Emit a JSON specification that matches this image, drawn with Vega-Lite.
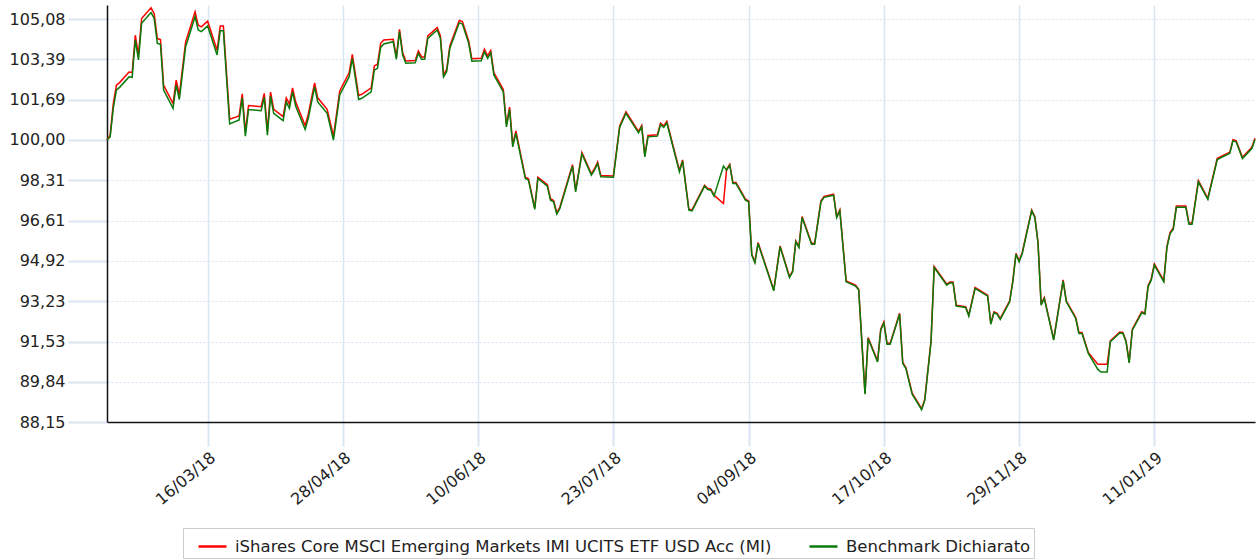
{
  "$schema": "https://vega.github.io/schema/vega-lite/v6.json",
  "width": 1148,
  "height": 417,
  "autosize": {"type": "none"},
  "padding": {"left": 107, "top": 5, "right": 2, "bottom": 138},
  "background": "white",
  "config": {"view": {"stroke": null}, "font": "DejaVu Sans"},
  "data": {"values": [
    {"d":"2018-02-12","e":100.00,"b":100.00},
    {"d":"2018-02-13","e":100.20,"b":100.13},
    {"d":"2018-02-14","e":101.53,"b":101.33},
    {"d":"2018-02-15","e":102.30,"b":102.10},
    {"d":"2018-02-16","e":102.41,"b":102.21},
    {"d":"2018-02-19","e":102.85,"b":102.65},
    {"d":"2018-02-20","e":102.83,"b":102.63},
    {"d":"2018-02-21","e":104.40,"b":104.20},
    {"d":"2018-02-22","e":103.56,"b":103.36},
    {"d":"2018-02-23","e":105.10,"b":104.90},
    {"d":"2018-02-26","e":105.55,"b":105.35},
    {"d":"2018-02-27","e":105.31,"b":105.11},
    {"d":"2018-02-28","e":104.26,"b":104.06},
    {"d":"2018-03-01","e":104.22,"b":104.02},
    {"d":"2018-03-02","e":102.30,"b":102.10},
    {"d":"2018-03-05","e":101.53,"b":101.33},
    {"d":"2018-03-06","e":102.51,"b":102.31},
    {"d":"2018-03-07","e":101.90,"b":101.70},
    {"d":"2018-03-09","e":104.12,"b":103.92},
    {"d":"2018-03-12","e":105.38,"b":105.18},
    {"d":"2018-03-13","e":104.82,"b":104.62},
    {"d":"2018-03-14","e":104.75,"b":104.55},
    {"d":"2018-03-16","e":104.99,"b":104.79},
    {"d":"2018-03-19","e":103.77,"b":103.57},
    {"d":"2018-03-20","e":104.79,"b":104.59},
    {"d":"2018-03-21","e":104.79,"b":104.59},
    {"d":"2018-03-23","e":100.87,"b":100.67},
    {"d":"2018-03-26","e":101.01,"b":100.84},
    {"d":"2018-03-27","e":101.94,"b":101.77},
    {"d":"2018-03-28","e":100.33,"b":100.16},
    {"d":"2018-03-29","e":101.45,"b":101.28},
    {"d":"2018-04-02","e":101.40,"b":101.23},
    {"d":"2018-04-03","e":101.96,"b":101.79},
    {"d":"2018-04-04","e":100.37,"b":100.20},
    {"d":"2018-04-05","e":102.01,"b":101.84},
    {"d":"2018-04-06","e":101.29,"b":101.12},
    {"d":"2018-04-09","e":100.98,"b":100.81},
    {"d":"2018-04-10","e":101.77,"b":101.60},
    {"d":"2018-04-11","e":101.50,"b":101.33},
    {"d":"2018-04-12","e":102.19,"b":102.02},
    {"d":"2018-04-13","e":101.59,"b":101.42},
    {"d":"2018-04-16","e":100.61,"b":100.44},
    {"d":"2018-04-17","e":101.08,"b":100.91},
    {"d":"2018-04-19","e":102.40,"b":102.23},
    {"d":"2018-04-20","e":101.77,"b":101.60},
    {"d":"2018-04-23","e":101.29,"b":101.12},
    {"d":"2018-04-25","e":100.16,"b":99.99},
    {"d":"2018-04-27","e":102.06,"b":101.89},
    {"d":"2018-04-30","e":102.83,"b":102.66},
    {"d":"2018-05-01","e":103.60,"b":103.43},
    {"d":"2018-05-03","e":101.87,"b":101.70},
    {"d":"2018-05-04","e":101.92,"b":101.75},
    {"d":"2018-05-07","e":102.19,"b":102.02},
    {"d":"2018-05-08","e":103.11,"b":102.94},
    {"d":"2018-05-09","e":103.18,"b":103.01},
    {"d":"2018-05-10","e":104.06,"b":103.89},
    {"d":"2018-05-11","e":104.20,"b":104.03},
    {"d":"2018-05-14","e":104.23,"b":104.13},
    {"d":"2018-05-15","e":103.49,"b":103.39},
    {"d":"2018-05-16","e":104.65,"b":104.55},
    {"d":"2018-05-17","e":103.67,"b":103.57},
    {"d":"2018-05-18","e":103.32,"b":103.22},
    {"d":"2018-05-21","e":103.34,"b":103.24},
    {"d":"2018-05-22","e":103.74,"b":103.64},
    {"d":"2018-05-23","e":103.49,"b":103.39},
    {"d":"2018-05-24","e":103.49,"b":103.39},
    {"d":"2018-05-25","e":104.37,"b":104.27},
    {"d":"2018-05-28","e":104.72,"b":104.62},
    {"d":"2018-05-29","e":104.37,"b":104.27},
    {"d":"2018-05-30","e":102.75,"b":102.65},
    {"d":"2018-05-31","e":102.97,"b":102.87},
    {"d":"2018-06-01","e":103.95,"b":103.85},
    {"d":"2018-06-04","e":105.02,"b":104.92},
    {"d":"2018-06-05","e":104.97,"b":104.87},
    {"d":"2018-06-07","e":104.16,"b":104.06},
    {"d":"2018-06-08","e":103.41,"b":103.31},
    {"d":"2018-06-11","e":103.43,"b":103.33},
    {"d":"2018-06-12","e":103.81,"b":103.71},
    {"d":"2018-06-13","e":103.53,"b":103.43},
    {"d":"2018-06-14","e":103.76,"b":103.66},
    {"d":"2018-06-15","e":102.83,"b":102.73},
    {"d":"2018-06-18","e":102.12,"b":102.02},
    {"d":"2018-06-19","e":100.65,"b":100.55},
    {"d":"2018-06-20","e":101.38,"b":101.28},
    {"d":"2018-06-21","e":99.81,"b":99.71},
    {"d":"2018-06-22","e":100.38,"b":100.28},
    {"d":"2018-06-25","e":98.44,"b":98.38},
    {"d":"2018-06-26","e":98.37,"b":98.31},
    {"d":"2018-06-28","e":97.14,"b":97.08},
    {"d":"2018-06-29","e":98.44,"b":98.38},
    {"d":"2018-07-02","e":98.12,"b":98.06},
    {"d":"2018-07-03","e":97.53,"b":97.47},
    {"d":"2018-07-04","e":97.46,"b":97.40},
    {"d":"2018-07-05","e":96.94,"b":96.88},
    {"d":"2018-07-06","e":97.18,"b":97.12},
    {"d":"2018-07-10","e":98.96,"b":98.90},
    {"d":"2018-07-11","e":97.88,"b":97.82},
    {"d":"2018-07-13","e":99.47,"b":99.41},
    {"d":"2018-07-16","e":98.58,"b":98.52},
    {"d":"2018-07-17","e":98.79,"b":98.73},
    {"d":"2018-07-18","e":99.07,"b":99.01},
    {"d":"2018-07-19","e":98.51,"b":98.45},
    {"d":"2018-07-23","e":98.49,"b":98.43},
    {"d":"2018-07-25","e":100.59,"b":100.53},
    {"d":"2018-07-27","e":101.18,"b":101.12},
    {"d":"2018-07-31","e":100.36,"b":100.30},
    {"d":"2018-08-01","e":100.61,"b":100.55},
    {"d":"2018-08-02","e":99.35,"b":99.29},
    {"d":"2018-08-03","e":100.19,"b":100.13},
    {"d":"2018-08-06","e":100.22,"b":100.16},
    {"d":"2018-08-07","e":100.71,"b":100.65},
    {"d":"2018-08-08","e":100.59,"b":100.53},
    {"d":"2018-08-09","e":100.78,"b":100.72},
    {"d":"2018-08-10","e":100.26,"b":100.20},
    {"d":"2018-08-13","e":98.72,"b":98.66},
    {"d":"2018-08-14","e":99.16,"b":99.12},
    {"d":"2018-08-16","e":97.09,"b":97.05},
    {"d":"2018-08-17","e":97.06,"b":97.02},
    {"d":"2018-08-21","e":98.10,"b":98.06},
    {"d":"2018-08-22","e":97.96,"b":97.92},
    {"d":"2018-08-23","e":97.93,"b":97.89},
    {"d":"2018-08-24","e":97.68,"b":97.64},
    {"d":"2018-08-27","e":97.33,"b":98.90},
    {"d":"2018-08-28","e":98.77,"b":98.73},
    {"d":"2018-08-29","e":98.98,"b":98.94},
    {"d":"2018-08-30","e":98.21,"b":98.17},
    {"d":"2018-08-31","e":98.21,"b":98.17},
    {"d":"2018-09-03","e":97.51,"b":97.47},
    {"d":"2018-09-04","e":97.44,"b":97.40},
    {"d":"2018-09-05","e":95.20,"b":95.16},
    {"d":"2018-09-06","e":94.88,"b":94.84},
    {"d":"2018-09-07","e":95.69,"b":95.65},
    {"d":"2018-09-12","e":93.70,"b":93.66},
    {"d":"2018-09-14","e":95.55,"b":95.51},
    {"d":"2018-09-17","e":94.26,"b":94.22},
    {"d":"2018-09-18","e":94.50,"b":94.46},
    {"d":"2018-09-19","e":95.76,"b":95.72},
    {"d":"2018-09-20","e":95.52,"b":95.48},
    {"d":"2018-09-21","e":96.78,"b":96.74},
    {"d":"2018-09-24","e":95.66,"b":95.62},
    {"d":"2018-09-25","e":95.66,"b":95.62},
    {"d":"2018-09-27","e":97.44,"b":97.40},
    {"d":"2018-09-28","e":97.63,"b":97.59},
    {"d":"2018-10-01","e":97.72,"b":97.68},
    {"d":"2018-10-02","e":96.78,"b":96.74},
    {"d":"2018-10-03","e":97.06,"b":97.02},
    {"d":"2018-10-05","e":94.08,"b":94.04},
    {"d":"2018-10-08","e":93.90,"b":93.86},
    {"d":"2018-10-09","e":93.73,"b":93.69},
    {"d":"2018-10-11","e":89.36,"b":89.32},
    {"d":"2018-10-12","e":91.70,"b":91.66},
    {"d":"2018-10-15","e":90.71,"b":90.67},
    {"d":"2018-10-16","e":92.05,"b":92.01},
    {"d":"2018-10-17","e":92.35,"b":92.31},
    {"d":"2018-10-18","e":91.46,"b":91.42},
    {"d":"2018-10-19","e":91.46,"b":91.42},
    {"d":"2018-10-22","e":92.72,"b":92.68},
    {"d":"2018-10-23","e":90.65,"b":90.61},
    {"d":"2018-10-24","e":90.44,"b":90.40},
    {"d":"2018-10-26","e":89.36,"b":89.32},
    {"d":"2018-10-29","e":88.71,"b":88.67},
    {"d":"2018-10-30","e":89.10,"b":89.06},
    {"d":"2018-11-01","e":91.56,"b":91.52},
    {"d":"2018-11-02","e":94.68,"b":94.64},
    {"d":"2018-11-06","e":93.94,"b":93.90},
    {"d":"2018-11-07","e":94.03,"b":93.99},
    {"d":"2018-11-08","e":94.03,"b":93.99},
    {"d":"2018-11-09","e":93.06,"b":93.02},
    {"d":"2018-11-12","e":93.00,"b":92.96},
    {"d":"2018-11-13","e":92.64,"b":92.60},
    {"d":"2018-11-15","e":93.80,"b":93.76},
    {"d":"2018-11-19","e":93.48,"b":93.44},
    {"d":"2018-11-20","e":92.30,"b":92.26},
    {"d":"2018-11-21","e":92.78,"b":92.74},
    {"d":"2018-11-22","e":92.72,"b":92.68},
    {"d":"2018-11-23","e":92.50,"b":92.46},
    {"d":"2018-11-26","e":93.24,"b":93.20},
    {"d":"2018-11-27","e":94.08,"b":94.04},
    {"d":"2018-11-28","e":95.24,"b":95.20},
    {"d":"2018-11-29","e":94.92,"b":94.88},
    {"d":"2018-11-30","e":95.27,"b":95.23},
    {"d":"2018-12-03","e":97.06,"b":97.02},
    {"d":"2018-12-04","e":96.78,"b":96.74},
    {"d":"2018-12-05","e":95.72,"b":95.68},
    {"d":"2018-12-06","e":93.10,"b":93.06},
    {"d":"2018-12-07","e":93.38,"b":93.34},
    {"d":"2018-12-10","e":91.63,"b":91.59},
    {"d":"2018-12-13","e":94.12,"b":94.08},
    {"d":"2018-12-14","e":93.24,"b":93.20},
    {"d":"2018-12-17","e":92.54,"b":92.50},
    {"d":"2018-12-18","e":91.91,"b":91.87},
    {"d":"2018-12-19","e":91.91,"b":91.87},
    {"d":"2018-12-21","e":91.07,"b":91.03},
    {"d":"2018-12-24","e":90.58,"b":90.37},
    {"d":"2018-12-25","e":90.58,"b":90.25},
    {"d":"2018-12-27","e":90.58,"b":90.25},
    {"d":"2018-12-28","e":91.56,"b":91.52},
    {"d":"2018-12-31","e":91.93,"b":91.89},
    {"d":"2019-01-01","e":91.91,"b":91.87},
    {"d":"2019-01-02","e":91.56,"b":91.52},
    {"d":"2019-01-03","e":90.67,"b":90.63},
    {"d":"2019-01-04","e":92.05,"b":92.01},
    {"d":"2019-01-07","e":92.78,"b":92.74},
    {"d":"2019-01-08","e":92.72,"b":92.68},
    {"d":"2019-01-09","e":93.88,"b":93.83},
    {"d":"2019-01-10","e":94.16,"b":94.11},
    {"d":"2019-01-11","e":94.79,"b":94.74},
    {"d":"2019-01-14","e":94.09,"b":94.04},
    {"d":"2019-01-15","e":95.53,"b":95.48},
    {"d":"2019-01-16","e":96.12,"b":96.07},
    {"d":"2019-01-17","e":96.29,"b":96.24},
    {"d":"2019-01-18","e":97.22,"b":97.17},
    {"d":"2019-01-21","e":97.22,"b":97.17},
    {"d":"2019-01-22","e":96.51,"b":96.46},
    {"d":"2019-01-23","e":96.51,"b":96.46},
    {"d":"2019-01-25","e":98.29,"b":98.24},
    {"d":"2019-01-28","e":97.55,"b":97.50},
    {"d":"2019-01-31","e":99.23,"b":99.18},
    {"d":"2019-02-04","e":99.49,"b":99.44},
    {"d":"2019-02-05","e":100.01,"b":99.96},
    {"d":"2019-02-06","e":99.97,"b":99.92},
    {"d":"2019-02-08","e":99.27,"b":99.22},
    {"d":"2019-02-11","e":99.69,"b":99.64},
    {"d":"2019-02-12","e":100.07,"b":100.02}
  ]},
  "encoding": {
    "x": {
      "field": "d",
      "type": "temporal",
      "scale": {"type": "utc", "domain": [{"year": 2018, "month": 2, "date": 12, "utc": true}, {"year": 2019, "month": 2, "date": 12, "utc": true}]},
      "axis": {
        "title": null,
        "values": [
          {"year": 2018, "month": 3, "date": 16, "utc": true},
          {"year": 2018, "month": 4, "date": 28, "utc": true},
          {"year": 2018, "month": 6, "date": 10, "utc": true},
          {"year": 2018, "month": 7, "date": 23, "utc": true},
          {"year": 2018, "month": 9, "date": 4, "utc": true},
          {"year": 2018, "month": 10, "date": 17, "utc": true},
          {"year": 2018, "month": 11, "date": 29, "utc": true},
          {"year": 2019, "month": 1, "date": 11, "utc": true}
        ],
        "labelExpr": "utcFormat(datum.value, '%d/%m/%y')",
        "labelAngle": -40,
        "labelAlign": "right",
        "labelBaseline": "top",
        "labelFont": "DejaVu Sans",
        "labelFontSize": 16,
        "labelColor": "#222222",
        "labelPadding": 3,
        "labelOverlap": false,
        "tickSize": 24,
        "tickColor": "#dbe6f4",
        "tickWidth": 2,
        "grid": true,
        "gridColor": "#dbe6f4",
        "gridWidth": 1.5,
        "domainColor": "#111111",
        "domainWidth": 1.5
      }
    }
  },
  "layer": [
    {
      "mark": {"type": "line", "strokeWidth": 1.5, "interpolate": "linear"},
      "encoding": {
        "y": {
          "field": "e",
          "type": "quantitative",
          "scale": {"domain": [88.15, 105.67], "nice": false, "zero": false},
          "axis": {
            "title": null,
            "values": [88.15, 89.84, 91.53, 93.23, 94.92, 96.61, 98.31, 100, 101.69, 103.39, 105.08],
            "labelExpr": "replace(format(datum.value, '.2f'), '.', ',')",
            "labelFont": "DejaVu Sans",
            "labelFontSize": 16,
            "labelColor": "#222222",
            "labelPadding": 3,
            "labelOverlap": false,
            "tickSize": 39,
            "tickColor": "#dbe6f4",
            "tickWidth": 2,
            "grid": true,
            "gridColor": "#d3e1f2",
            "gridDash": [2, 2],
            "gridWidth": 1,
            "domainColor": "#111111",
            "domainWidth": 1.5
          }
        },
        "color": {
          "datum": "iShares Core MSCI Emerging Markets IMI UCITS ETF USD Acc (MI)",
          "scale": {
            "domain": ["iShares Core MSCI Emerging Markets IMI UCITS ETF USD Acc (MI)", "Benchmark Dichiarato"],
            "range": ["#ff0000", "#0a7a0a"]
          },
          "legend": {
            "title": null,
            "orient": "none",
            "legendX": 76,
            "legendY": 523,
            "direction": "horizontal",
            "symbolType": "stroke",
            "symbolSize": 784,
            "symbolStrokeWidth": 2.5,
            "symbolOffset": 11,
            "labelFont": "DejaVu Sans",
            "labelFontSize": 16.5,
            "labelColor": "#222222",
            "labelOffset": 7,
            "labelLimit": 0,
            "columnPadding": 25,
            "padding": 3,
            "strokeColor": "#cccccc",
            "fillColor": "white"
          }
        }
      }
    },
    {
      "mark": {"type": "line", "strokeWidth": 1.5, "interpolate": "linear"},
      "encoding": {
        "y": {
          "field": "b",
          "type": "quantitative",
          "scale": {"domain": [88.15, 105.67], "nice": false, "zero": false},
          "axis": {
            "title": null,
            "values": [88.15, 89.84, 91.53, 93.23, 94.92, 96.61, 98.31, 100, 101.69, 103.39, 105.08],
            "labelExpr": "replace(format(datum.value, '.2f'), '.', ',')",
            "labelFont": "DejaVu Sans",
            "labelFontSize": 16,
            "labelColor": "#222222",
            "labelPadding": 3,
            "labelOverlap": false,
            "tickSize": 39,
            "tickColor": "#dbe6f4",
            "tickWidth": 2,
            "grid": true,
            "gridColor": "#d3e1f2",
            "gridDash": [2, 2],
            "gridWidth": 1,
            "domainColor": "#111111",
            "domainWidth": 1.5
          }
        },
        "color": {"datum": "Benchmark Dichiarato"}
      }
    }
  ]
}
